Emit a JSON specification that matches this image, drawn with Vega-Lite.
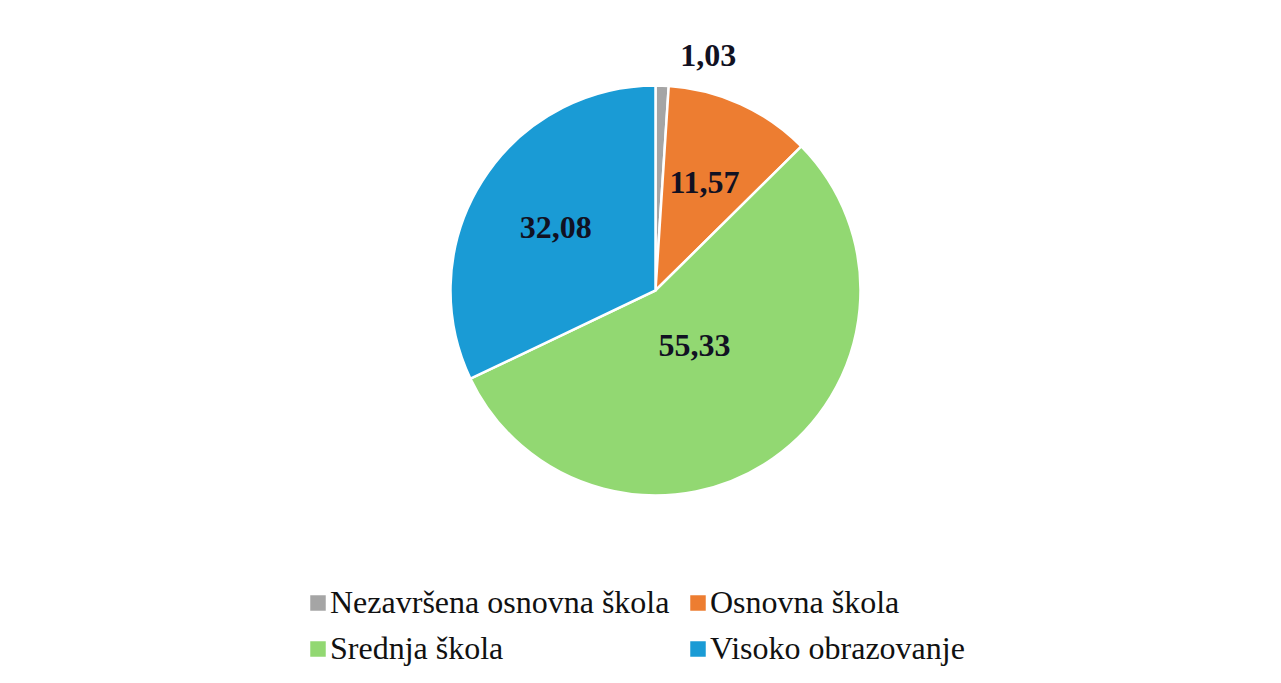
{
  "$schema": "https://vega.github.io/schema/vega-lite/v6.json",
  "autosize": {"type": "none"},
  "width": 1251,
  "height": 581,
  "padding": {"left": 30, "top": 0, "right": 0, "bottom": 102},
  "background": "white",
  "config": {"view": {"stroke": null}},
  "data": {
    "values": [
      {"rank": 1, "category": "Nezavršena osnovna škola", "value": 1.03, "label": "1,03"},
      {"rank": 2, "category": "Osnovna škola", "value": 11.57, "label": "11,57"},
      {"rank": 3, "category": "Srednja škola", "value": 55.33, "label": "55,33"},
      {"rank": 4, "category": "Visoko obrazovanje", "value": 32.08, "label": "32,08"}
    ]
  },
  "encoding": {
    "theta": {"field": "value", "type": "quantitative", "stack": true},
    "order": {"field": "rank", "type": "ordinal"}
  },
  "layer": [
    {
      "mark": {"type": "arc", "radius": 205, "stroke": "white", "strokeWidth": 2.5},
      "encoding": {
        "color": {
          "field": "category",
          "type": "nominal",
          "scale": {
            "domain": ["Nezavršena osnovna škola", "Osnovna škola", "Srednja škola", "Visoko obrazovanje"],
            "range": ["#a5a5a5", "#ed7d31", "#92d872", "#1a9bd5"]
          },
          "legend": {
            "title": null,
            "orient": "none",
            "direction": "horizontal",
            "legendX": 272,
            "legendY": 587,
            "columns": 2,
            "columnPadding": 12,
            "rowPadding": 14,
            "symbolType": "square",
            "symbolSize": 240,
            "symbolStrokeWidth": 0,
            "labelOffset": -4,
            "labelFont": "Liberation Serif",
            "labelFontSize": 32,
            "labelColor": "#111111",
            "labelLimit": 0
          }
        }
      }
    },
    {
      "mark": {
        "type": "text",
        "font": "Liberation Serif",
        "fontSize": 32,
        "fontWeight": "bold",
        "color": "#111122",
        "radius": 118
      },
      "encoding": {
        "text": {"field": "label", "type": "nominal"},
        "opacity": {"condition": {"test": "datum.value > 5 && datum.value < 50", "value": 1}, "value": 0}
      }
    },
    {
      "mark": {
        "type": "text",
        "font": "Liberation Serif",
        "fontSize": 32,
        "fontWeight": "bold",
        "color": "#111122",
        "radius": 68
      },
      "encoding": {
        "text": {"field": "label", "type": "nominal"},
        "opacity": {"condition": {"test": "datum.value > 50", "value": 1}, "value": 0}
      }
    },
    {
      "mark": {
        "type": "text",
        "font": "Liberation Serif",
        "fontSize": 32,
        "fontWeight": "bold",
        "color": "#111122",
        "radius": 240,
        "align": "left",
        "dx": 17,
        "dy": 5
      },
      "encoding": {
        "text": {"field": "label", "type": "nominal"},
        "opacity": {"condition": {"test": "datum.value < 5", "value": 1}, "value": 0}
      }
    }
  ]
}
